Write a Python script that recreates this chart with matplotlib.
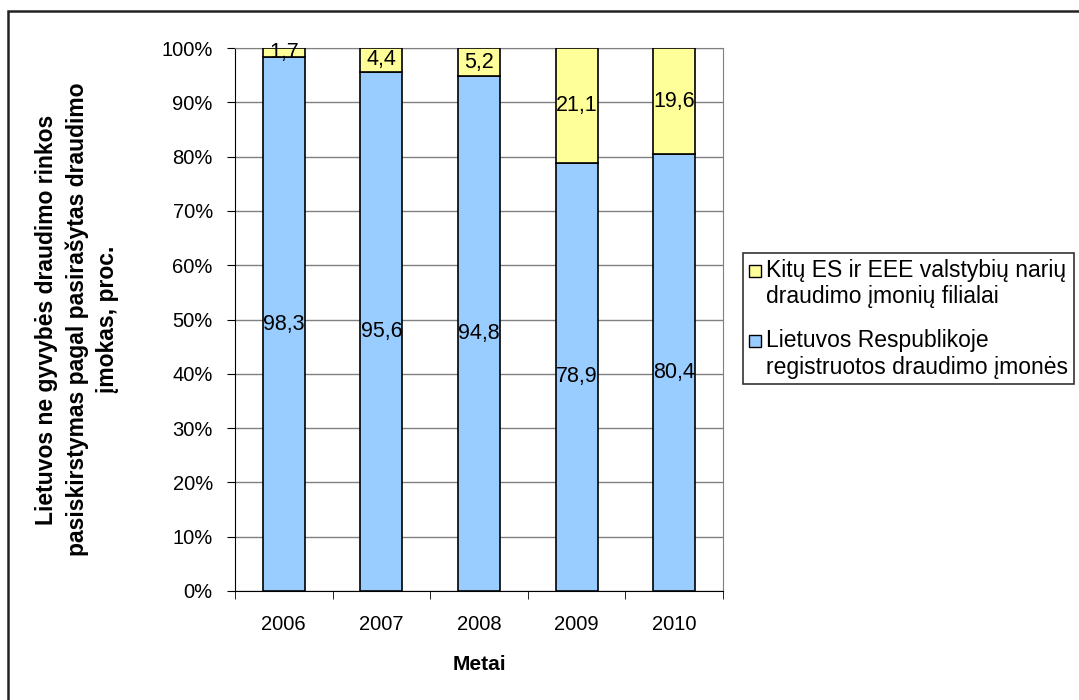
import matplotlib.pyplot as plt
from matplotlib.patches import Rectangle, Patch
from matplotlib.legend_handler import HandlerPatch

plt.rcParams['font.family'] = ['Liberation Sans', 'DejaVu Sans']

# duomenys
years = ['2006', '2007', '2008', '2009', '2010']
lt_companies = [98.3, 95.6, 94.8, 78.9, 80.4]
es_branches = [1.7, 4.4, 5.2, 21.1, 19.6]

blue = '#99CCFF'
yellow = '#FFFF99'

fig = plt.figure(figsize=(10.79, 7), dpi=100)
ax = fig.add_axes([235 / 1079, 1 - 591 / 700, 488 / 1079, 543 / 700])

x = range(len(years))
ax.bar(x, lt_companies, width=0.43, color=blue, edgecolor='black', linewidth=1.2, zorder=3)
ax.bar(x, es_branches, width=0.43, bottom=lt_companies, color=yellow,
       edgecolor='black', linewidth=1.2, zorder=3)

for i in x:
    ax.text(i, lt_companies[i] / 2, f'{lt_companies[i]:.1f}'.replace('.', ','),
            ha='center', va='center', fontsize=15.5, zorder=4)
    ax.text(i, lt_companies[i] + es_branches[i] / 2, f'{es_branches[i]:.1f}'.replace('.', ','),
            ha='center', va='center', fontsize=15.5, zorder=4)

ax.set_xlim(-0.5, 4.5)
ax.set_ylim(0, 100)
ax.set_yticks(range(0, 101, 10))
ax.set_yticklabels([f'{v}%' for v in range(0, 101, 10)], fontsize=14.5)
ax.set_xticks(x)
ax.set_xticklabels(years, fontsize=14.5)
ax.set_xticks([i - 0.5 for i in range(6)], minor=True)
ax.tick_params(axis='x', which='major', length=0, pad=17)
ax.tick_params(axis='x', which='minor', length=6, direction='out', color='black')
ax.tick_params(axis='y', length=6, direction='out', pad=10)
ax.grid(axis='y', color='#808080', linewidth=1, zorder=0)

ax.spines['top'].set_color('#808080')
ax.spines['right'].set_color('#808080')
ax.spines['left'].set_color('black')
ax.spines['bottom'].set_color('black')

ax.set_xlabel('Metai', fontsize=15, fontweight='bold')
ax.xaxis.set_label_coords(0.5, -0.118)
ax.set_ylabel('Lietuvos ne gyvybės draudimo rinkos\npasiskirstymas pagal pasirašytas draudimo\nįmokas, proc.',
              fontsize=16.5, fontweight='bold', linespacing=1.4)
ax.yaxis.set_label_coords(-0.238, 0.5)


# kvadratėlis prie pirmos eilutės
def top_square(legend, orig_handle, xdescent, ydescent, width, height, fontsize):
    s = 0.55 * fontsize
    return Rectangle((-xdescent, -ydescent + 0.62 * fontsize), s, s)


handles = [Patch(facecolor=yellow, edgecolor='black'), Patch(facecolor=blue, edgecolor='black')]
labels = ['Kitų ES ir EEE valstybių narių\ndraudimo įmonių filialai',
          'Lietuvos Respublikoje\nregistruotos draudimo įmonės']
leg = fig.legend(handles, labels, loc='upper left', bbox_to_anchor=(743 / 1079, 1 - 253 / 700),
                 fontsize=16.5, frameon=True, fancybox=False, edgecolor='black',
                 handlelength=0.55, handleheight=0.55, handletextpad=0.2, labelspacing=0.9,
                 borderpad=0.25, borderaxespad=0,
                 handler_map={Patch: HandlerPatch(patch_func=top_square)})
leg.get_frame().set_linewidth(1.2)

# rėmelis aplink grafiką
fig.patches.append(Rectangle((8 / 1079, -0.1), 1.2, 1 - 11 / 700 + 0.1,
                             transform=fig.transFigure, fill=False,
                             edgecolor='#222222', linewidth=1.8))

fig.savefig('out.png', dpi=100)
